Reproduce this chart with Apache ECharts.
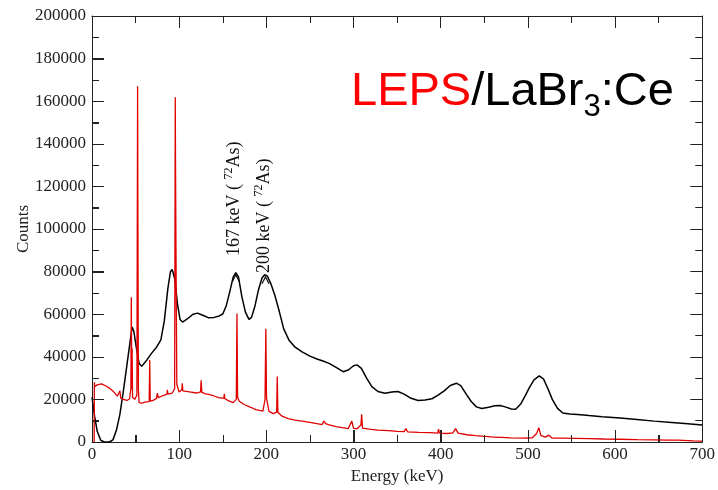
<!DOCTYPE html>
<html>
<head>
<meta charset="utf-8">
<script src="https://cdn.jsdelivr.net/npm/echarts@6/dist/echarts.min.js"></script>
<style>html,body{margin:0;padding:0;background:#fff;}#c{width:718px;height:490px;}</style>
</head>
<body>
<div id="c"></div>
<script>
// LaBr3:Ce spectrum (black): [energy keV, counts]
const labr3 = [[0,21000],[3,12000],[6,5000],[10,800],[14,0],[20,0],[24,1000],[28,5500],[32,13000],[36,24000],[40,36000],[43,45000],[46,54000],[48,52000],[51,44000],[54,37000],[57,35500],[62,38000],[68,41500],[74,44500],[79,48000],[83,57000],[87,72000],[90,80000],[92,81000],[95,76500],[98,65000],[101,57500],[104,56300],[110,58000],[116,60000],[121,60500],[127,59500],[134,58300],[140,58500],[146,59200],[150,60100],[154,64000],[158,70500],[162,77500],[165,79500],[168,77500],[172,68000],[176,61000],[180,57600],[183,58500],[187,64000],[191,71500],[195,77000],[198,78500],[201,78000],[205,74500],[210,68500],[215,61000],[220,53000],[226,47800],[233,44500],[241,42300],[250,40300],[258,39000],[265,38000],[272,36900],[280,35000],[288,33000],[294,33800],[300,35800],[304,36200],[309,34600],[315,30000],[321,26000],[328,23700],[336,22900],[344,23500],[351,23700],[358,22500],[366,20500],[374,19500],[382,19700],[390,20300],[397,22000],[404,24000],[411,26500],[418,27600],[423,26500],[430,22000],[435,19000],[441,16500],[447,15700],[455,16300],[462,17000],[468,17100],[474,16500],[481,15500],[486,15400],[492,18000],[497,21800],[502,25800],[507,29200],[513,31000],[518,29500],[523,25000],[528,20000],[534,15800],[540,13600],[548,13200],[557,12900],[570,12400],[585,11900],[606,11300],[625,10600],[645,9800],[665,9200],[680,8700],[700,8000]];
// LEPS spectrum (red): [energy keV, counts]
const leps = [[2.5,0],[2.7,28000],[3,26000],[6,26800],[11,27300],[16,26300],[20,25300],[25,23500],[29,21500],[31,20800],[32,24000],[33,20600],[36,20000],[40,19500],[43,20200],[44.6,25000],[45.1,67900],[45.6,25000],[46,44000],[46.5,21000],[49,20000],[51.5,22000],[52.3,167000],[52.6,113000],[53.2,25000],[54,18500],[57,18300],[62,18800],[65.6,19000],[66.2,38500],[66.8,19200],[70,19500],[74,20500],[75,23000],[76,20800],[81,21700],[86,22500],[86.5,24500],[87,22500],[92,23000],[94.8,25000],[95.5,161900],[95.8,132000],[96.6,71000],[97.3,27000],[100,23500],[103,24500],[103.6,27600],[104.2,24000],[108,23800],[110,24500],[112,23500],[120,23000],[124.5,23500],[125.2,29000],[126,23300],[130,22600],[135,22200],[140,21600],[145,20800],[151.2,20500],[151.8,22600],[152.4,20300],[157,19300],[162,18500],[165.5,20000],[166.3,60300],[167,21000],[169,19100],[175,17500],[182,16300],[188,15200],[196,14500],[198.5,20000],[199.4,53200],[200.2,20500],[203,14400],[208,13300],[211.8,14000],[212.5,30700],[213.2,14000],[218,12100],[225,11000],[233,10300],[241,9800],[250,9200],[258,8600],[264,8200],[266,9800],[268,8600],[270,9000],[272,8000],[280,7200],[287,6700],[294,6300],[298,9800],[300,6400],[304,6200],[308.5,8000],[309.3,13000],[310.3,6500],[318,6000],[328,5600],[340,5300],[350,5000],[358,4900],[360,6300],[362,4800],[375,4500],[388,4400],[396.5,4200],[397.5,6000],[398.5,4200],[408,4000],[414,4300],[417,6300],[420,4200],[430,3400],[440,3000],[447,2800],[458,2400],[466,2200],[468,3000],[470,2200],[480,1900],[495,1800],[505,2000],[510,4000],[512.5,6700],[515,3000],[520,2300],[524,3200],[528,1800],[540,1800],[555,1700],[570,1600],[587,1400],[605,1300],[625,1100],[645,1000],[660,900],[672,900],[690,500],[700,400]];

const xTitle = 'Energy (keV)';
const yTitle = 'Counts';
const xMax = 700, xStep = 100;
const yMax = 200000, yStep = 20000;
const titleParts = [['LEPS', '#ff0000', false], ['/LaBr', '#000000', false], ['3', '#000000', true], [':Ce', '#000000', false]];
const annotations = [
  { pre: '167 keV ( ', sup: '72', post: 'As)', energy: 165, counts: 79500 },
  { pre: '200 keV ( ', sup: '72', post: 'As)', energy: 199, counts: 78500 }
];

const serif = "'Liberation Serif','Times New Roman',serif";
const sans = "'Liberation Sans',Arial,sans-serif";
const ctx = document.createElement('canvas').getContext('2d');
function tw(t, font){ ctx.font = font; return ctx.measureText(t).width; }

const chart = echarts.init(document.getElementById('c'));

function ax(){
  return {
    type: 'value', min: 0,
    axisLine: { show: true, onZero: false, lineStyle: { color: '#222' } },
    axisTick: { show: true, inside: true, length: 12, lineStyle: { color: '#222' } },
    minorTick: { show: true, splitNumber: 2, length: 7, lineStyle: { color: '#222' } },
    splitLine: { show: false }
  };
}

const option = {
  animation: false,
  backgroundColor: '#fff',
  grid: { left: 92, right: 13, top: 16, bottom: 44 },
  xAxis: [
    Object.assign(ax(), { max: xMax, interval: xStep,
      axisLabel: { fontFamily: serif, fontSize: 17, color: '#222', margin: 4 },
      name: xTitle, nameLocation: 'middle', nameGap: 26, nameMoveOverlap: false,
      nameTextStyle: { fontFamily: serif, fontSize: 17, color: '#222' } }),
    Object.assign(ax(), { max: xMax, interval: xStep, position: 'top', axisLabel: { show: false } })
  ],
  yAxis: [
    Object.assign(ax(), { max: yMax, interval: yStep,
      axisLabel: { fontFamily: serif, fontSize: 17, color: '#222', margin: 6, formatter: v => String(v) },
      name: yTitle, nameLocation: 'middle', nameGap: 60, nameMoveOverlap: false,
      nameTextStyle: { fontFamily: serif, fontSize: 17, color: '#222' } }),
    Object.assign(ax(), { max: yMax, interval: yStep, position: 'right', axisLabel: { show: false } })
  ],
  series: [
    { type: 'line', data: labr3, showSymbol: false, symbol: 'none', lineStyle: { color: '#000', width: 1.5 }, z: 2 },
    { type: 'line', data: leps, showSymbol: false, symbol: 'none', lineStyle: { color: '#e00000', width: 1.3 }, z: 3 }
  ]
};
chart.setOption(option);

const graphics = [];

// Inward ticks on the bottom and left axes, placed through the chart's own scales
const tickStyle = { stroke: '#222', lineWidth: 1 };
const origin = chart.convertToPixel({ gridIndex: 0 }, [0, 0]);
const ox = Math.round(origin[0]), oy = Math.round(origin[1]);
for (let v = 0; v <= xMax; v += xStep / 2) {
  const x = Math.round(chart.convertToPixel({ xAxisIndex: 0 }, v)) + 0.5;
  const len = (v % xStep === 0) ? 12 : 7;
  graphics.push({ type: 'line', silent: true, z: 5, shape: { x1: x, y1: oy, x2: x, y2: oy - len }, style: tickStyle });
}
for (let v = 0; v <= yMax; v += yStep / 2) {
  const y = Math.round(chart.convertToPixel({ yAxisIndex: 0 }, v)) + 0.5;
  const len = (v % yStep === 0) ? 12 : 7;
  graphics.push({ type: 'line', silent: true, z: 5, shape: { x1: ox, y1: y, x2: ox + len, y2: y }, style: tickStyle });
}

// Title
const bigFont = 'normal 47px ' + sans;
const subFont = 'normal 31px ' + sans;
let tx = 351;
const baseY = 108;
titleParts.forEach(p => {
  const f = p[2] ? subFont : bigFont;
  const size = p[2] ? 31 : 47;
  const bl = p[2] ? baseY + 10 : baseY;
  graphics.push({ type: 'text', x: tx, y: bl - 0.34 * size, style: { text: p[0], font: f, fill: p[1], verticalAlign: 'middle', align: 'left' }, z: 10 });
  tx += tw(p[0], f);
});

// Rotated peak annotations
const annFont = 'normal 18px ' + serif;
const supFont = 'normal 12px ' + serif;
const labelLayout = [{ dx: 5, startY: 256 }, { dx: 5, startY: 273 }];
annotations.forEach((a, i) => {
  const px = chart.convertToPixel({ gridIndex: 0 }, [a.energy, a.counts]);
  const gx = px[0] + labelLayout[i].dx;
  const gy = labelLayout[i].startY;
  let lx = 0;
  const kids = [];
  kids.push({ type: 'text', x: lx, y: -0.34 * 18, style: { text: a.pre, font: annFont, fill: '#111', verticalAlign: 'middle' } });
  lx += tw(a.pre, annFont);
  kids.push({ type: 'text', x: lx, y: -8 - 0.34 * 12, style: { text: a.sup, font: supFont, fill: '#111', verticalAlign: 'middle' } });
  lx += tw(a.sup, supFont);
  kids.push({ type: 'text', x: lx, y: -0.34 * 18, style: { text: a.post, font: annFont, fill: '#111', verticalAlign: 'middle' } });
  graphics.push({ type: 'group', x: gx, y: gy, rotation: Math.PI / 2, children: kids, z: 10 });
  const ax0 = px[0], ay = px[1] + 2;
  graphics.push({ type: 'polyline', shape: { points: [[ax0 - 3.5, ay + 7], [ax0, ay], [ax0 + 3.5, ay + 7]] }, style: { stroke: '#111', lineWidth: 1.2, fill: null }, z: 10 });
});

chart.setOption({ graphic: graphics });
</script>
</body>
</html>
